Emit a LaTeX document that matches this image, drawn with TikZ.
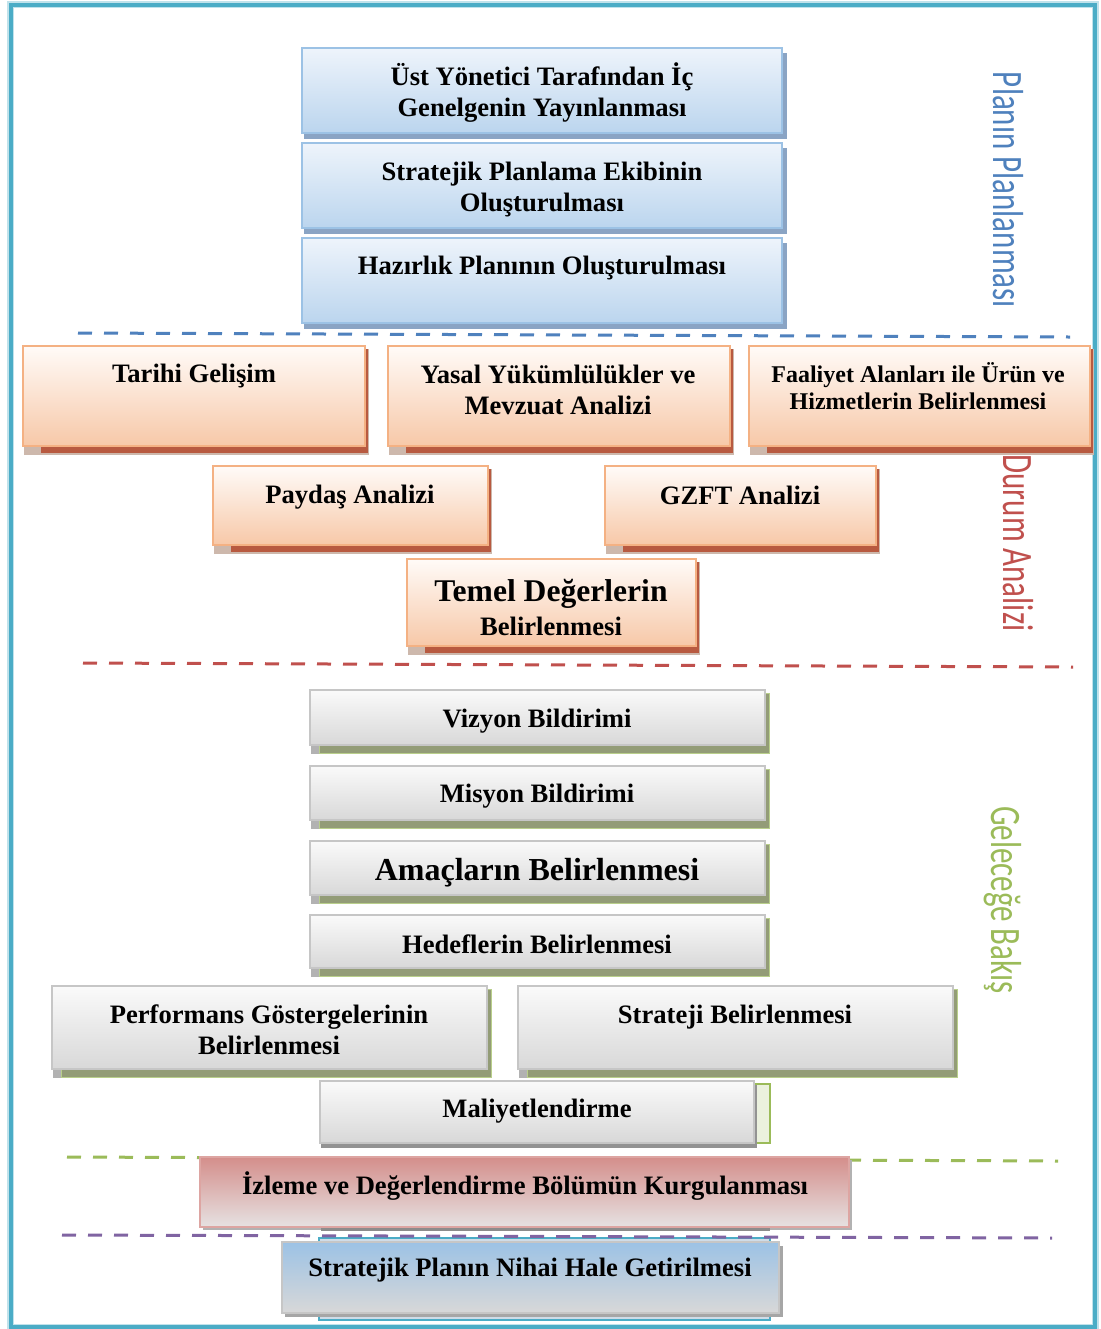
\documentclass[tikz,border=0pt]{standalone}
\usepackage{fontspec}
\setmainfont{Liberation Serif}
\newfontfamily\sidefont{Carlito}
\usetikzlibrary{fit}

\definecolor{frameteal}{HTML}{4BACC6}
\definecolor{bluetop}{HTML}{EEF4FB}
\definecolor{bluebot}{HTML}{BBD5EE}
\definecolor{blueedge}{HTML}{9CC2E5}
\definecolor{blueshade}{HTML}{8AA4C4}
\definecolor{orangetop}{HTML}{FFFBF8}
\definecolor{orangebot}{HTML}{F7C8A8}
\definecolor{orangeedge}{HTML}{F4B183}
\definecolor{orangeshade}{HTML}{B85A40}
\definecolor{brownshade}{HTML}{CDB8AC}
\definecolor{graytop}{HTML}{FAFAFA}
\definecolor{graybot}{HTML}{D8D8D8}
\definecolor{grayedge}{HTML}{C6C6C6}
\definecolor{oliveshade}{HTML}{939C77}
\definecolor{greenline}{HTML}{9BBB59}
\definecolor{redline}{HTML}{C0504D}
\definecolor{blueline}{HTML}{4F81BD}
\definecolor{purpleline}{HTML}{8064A2}
\definecolor{rosetop}{HTML}{D48E8B}
\definecolor{rosebot}{HTML}{E6E2E2}

\tikzset{
  face/.style={inner sep=0pt, line width=1pt},
  blueface/.style={face, draw=blueedge, top color=bluetop, bottom color=bluebot},
  orangeface/.style={face, draw=orangeedge, top color=orangetop, bottom color=orangebot},
  grayface/.style={face, draw=grayedge, top color=graytop, bottom color=graybot},
  lbl/.style={font=\bfseries\fontsize{13.3}{15.5}\selectfont, align=center, inner sep=0pt},
  smalllbl/.style={lbl, font=\bfseries\fontsize{12}{13.5}\selectfont},
  side/.style={font=\sidefont\fontsize{15.5}{18}\selectfont, rotate=-90, inner sep=0pt},
  sep/.style={line width=1.5pt, dash pattern=on 7pt off 6pt},
}

% panels: name, x1, y1, x2, y2 (pixel units, y downwards)
\newcommand\bluepanel[5]{%
  \fill[blueshade] (#2+2,#3+5) rectangle (#4+5,#5+6);
  \node[blueface, fit={(#2,#3)(#4,#5)}] (#1) {};
}
\newcommand\orangepanel[5]{%
  \fill[brownshade] (#2+1,#3+3) rectangle (#4+4,#5+9);
  \fill[orangeshade] (#2+18,#3+3) rectangle (#4+3,#5+7);
  \node[orangeface, fit={(#2,#3)(#4,#5)}] (#1) {};
}
\newcommand\graypanel[5]{%
  \fill[gray!60] (#2+1,#3+3) rectangle (#4+4,#5+9);
  \filldraw[fill=oliveshade, draw=greenline!70, line width=0.5pt] (#2+9,#3+3) rectangle (#4+4,#5+8);
  \node[grayface, fit={(#2,#3)(#4,#5)}] (#1) {};
}

\begin{document}
\begin{tikzpicture}[x=0.5pt,y=-0.5pt]
\useasboundingbox (0,0) rectangle (1101,1329);
\fill[white] (0,0) rectangle (1101,1329);

% outer frame
\draw[frameteal!35, line width=3.5pt] (10.5,4.5) rectangle (1095,1327);
\draw[frameteal, line width=2pt] (10.5,4.5) rectangle (1095,1327);

% section separators
\draw[sep, blueline] (78,333) -- (1070,337);
\draw[sep, redline] (83,663) -- (1073,667);
\draw[sep, greenline] (67,1157) -- (1058,1161);

% planning of the plan
\bluepanel{ust}{302}{48}{782}{133}
\bluepanel{ekip}{302}{143}{782}{228}
\bluepanel{hazir}{302}{238}{782}{323}
\node[lbl] (tust) at (542,93) {Üst Yönetici Tarafından İç\\Genelgenin Yayınlanması};
\node[lbl] (tekip) at (542,190) {Stratejik Planlama Ekibinin\\Oluşturulması};
\node[lbl] (thazir) at (542,268) {Hazırlık Planının Oluşturulması};

% situation analysis
\orangepanel{tarih}{23}{346}{365}{446}
\orangepanel{yasal}{388}{346}{730}{446}
\orangepanel{faal}{749}{346}{1090}{446}
\orangepanel{paydas}{213}{466}{488}{545}
\orangepanel{gzft}{605}{466}{876}{545}
\orangepanel{temel}{407}{559}{696}{646}
\node[lbl] (ttarih) at (194,376) {Tarihi Gelişim};
\node[lbl] (tyasal) at (558,390) {Yasal Yükümlülükler ve\\Mevzuat Analizi};
\node[smalllbl] (tfaal) at (918,386) {Faaliyet Alanları ile Ürün ve\\Hizmetlerin Belirlenmesi};
\node[lbl] (tpaydas) at (350,497) {Paydaş Analizi};
\node[lbl] (tgzft) at (740,495) {GZFT Analizi};
\node[lbl, font=\bfseries\fontsize{15.8}{16.5}\selectfont] (ttemel) at (551,594) {Temel Değerlerin};
\node[lbl] (ttemelb) at (551,626) {Belirlenmesi};

% looking ahead
\graypanel{vizyon}{310}{690}{765}{745}
\graypanel{misyon}{310}{766}{765}{820}
\graypanel{amac}{310}{841}{765}{895}
\graypanel{hedef}{310}{915}{765}{968}
\graypanel{perf}{52}{986}{487}{1069}
\graypanel{strat}{518}{986}{953}{1069}
\filldraw[fill=greenline!20, draw=greenline, line width=1pt] (756,1084) rectangle (770,1143);
\fill[gray!85] (321,1085) rectangle (757,1148);
\node[grayface, fit={(320,1081)(754,1143)}] (maliyet) {};
\node[lbl] (tvizyon) at (537,721) {Vizyon Bildirimi};
\node[lbl] (tmisyon) at (537,796) {Misyon Bildirimi};
\node[lbl, font=\bfseries\fontsize{16}{18}\selectfont] (tamac) at (537,873) {Amaçların Belirlenmesi};
\node[lbl] (thedef) at (537,944) {Hedeflerin Belirlenmesi};
\node[lbl] (tperf) at (269,1030) {Performans Göstergelerinin\\Belirlenmesi};
\node[lbl] (tstrat) at (735,1017) {Strateji Belirlenmesi};
\node[lbl] (tmaliyet) at (537,1111) {Maliyetlendirme};

% monitoring and evaluation
\fill[gray!60] (203,1160) rectangle (852,1230);
\fill[gray!90] (321,1170) rectangle (770,1231);
\node[face, draw=rosetop!80, top color=rosetop, bottom color=rosebot, fit={(200,1157)(849,1227)}] (izleme) {};
\node[lbl] (tizleme) at (525,1186) {İzleme ve Değerlendirme Bölümün Kurgulanması};

% finalising the plan
\filldraw[fill=bluebot!80!gray!60, draw=frameteal, line width=1pt] (319,1238) rectangle (770,1320);
\draw[sep, purpleline] (62,1235) -- (1052,1238);
\fill[gray!70] (285,1246) rectangle (783,1317);
\node[face, draw=grayedge, top color=blueedge, bottom color=graybot, fit={(282,1242)(779,1313)}] (nihai) {};
\node[lbl] (tnihai) at (530,1270) {Stratejik Planın Nihai Hale Getirilmesi};

% phase labels
\node[side, text=blueline] (lplan) at (1008,190) {\scalebox{1}[1.4]{Planın Planlanması}};
\node[side, text=redline] (ldurum) at (1018,543) {\scalebox{1}[1.4]{Durum Analizi}};
\node[side, text=greenline] (lgelecek) at (1003,900) {\scalebox{1}[1.4]{Geleceğe Bakış}};
\end{tikzpicture}
\end{document}
